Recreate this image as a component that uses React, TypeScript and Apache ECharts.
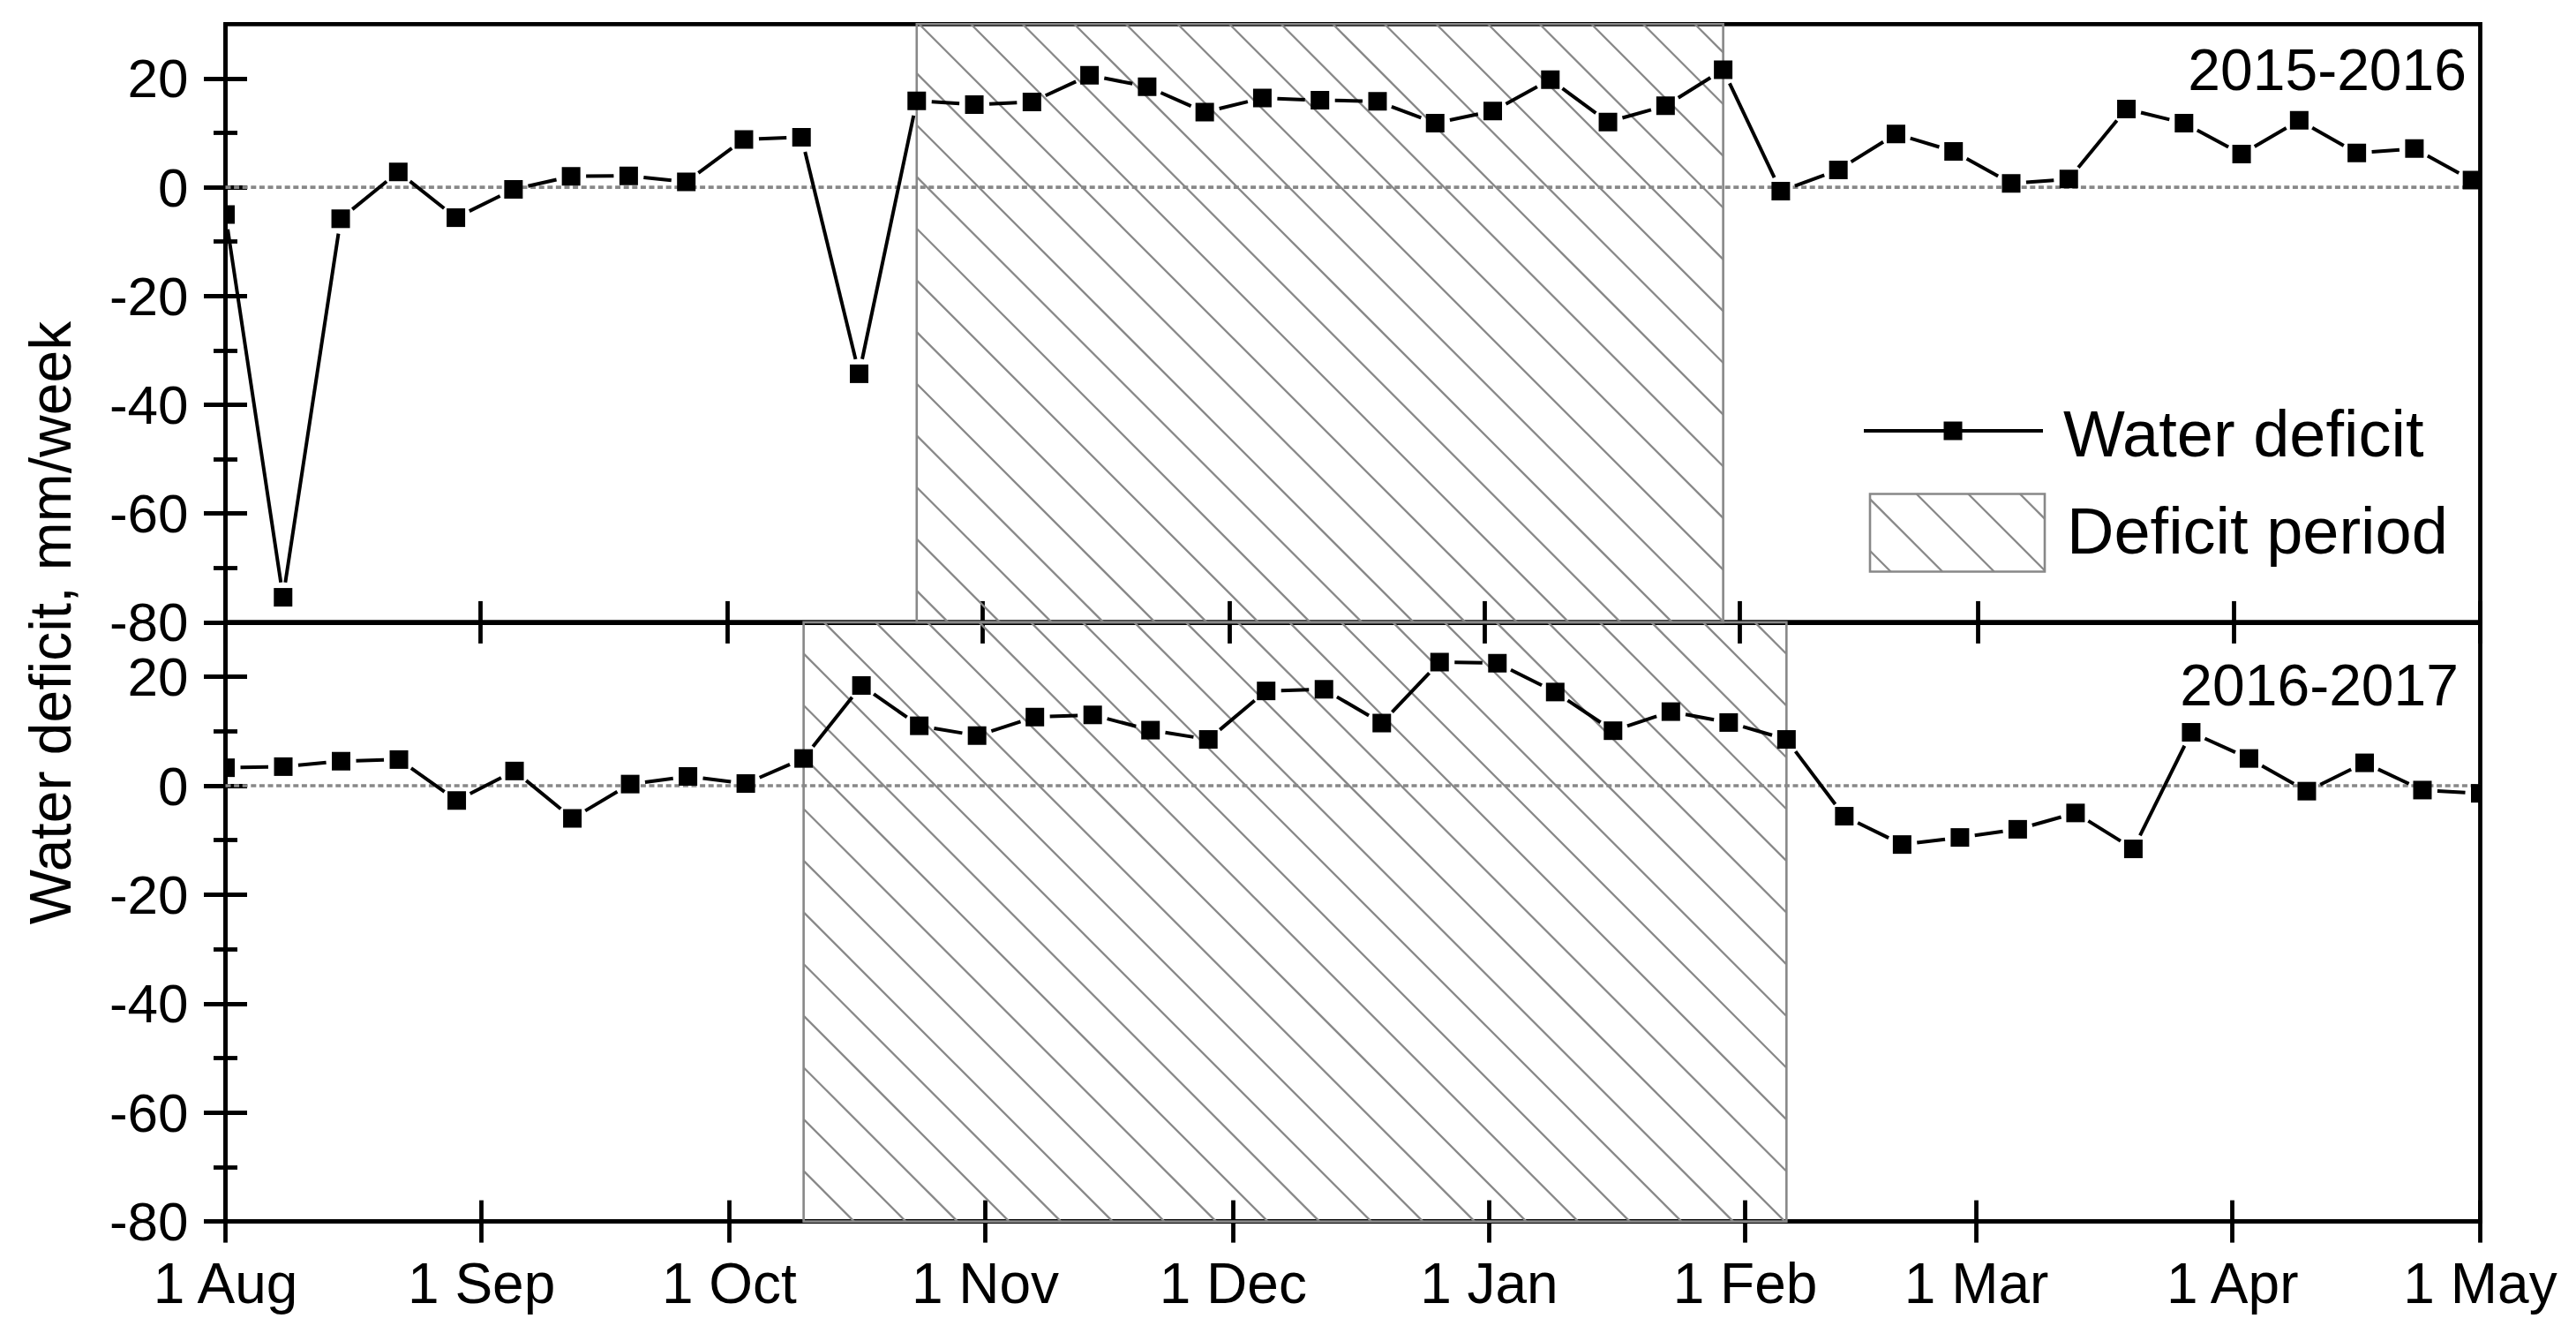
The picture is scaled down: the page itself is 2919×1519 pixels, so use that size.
import React, { useEffect, useRef } from 'react';
import * as echarts from 'echarts';

// ---------- data ----------
const monthLabels = ['1 Aug', '1 Sep', '1 Oct', '1 Nov', '1 Dec', '1 Jan', '1 Feb', '1 Mar', '1 Apr', '1 May'];
const monthDays2015 = [0, 31, 61, 92, 122, 153, 184, 213, 244, 274];
const monthDays2016 = [0, 31, 61, 92, 122, 153, 184, 212, 243, 273];

// days since 1 Aug of each weekly observation
const weekDays = [
  0, 7, 14, 21, 28, 35, 42, 49, 56, 63,
  70, 77, 84, 91, 98, 105, 112, 119, 126, 133,
  140, 147, 154, 161, 168, 175, 182, 189, 196, 203,
  210, 217, 224, 231, 238, 245, 252, 259, 266, 273,
];

const deficit2015 = [
  -5.0, -75.4, -5.8, 2.8, -5.6, -0.4, 2.0, 2.1, 1.0, 8.8,
  9.2, -34.3, 15.9, 15.2, 15.7, 20.6, 18.5, 13.8, 16.4, 16.0,
  15.8, 11.8, 14.0, 19.8, 12.0, 15.0, 21.6, -0.7, 3.2, 9.8,
  6.6, 0.7, 1.5, 14.4, 11.8, 6.1, 12.3, 6.3, 7.1, 1.3,
];

const deficit2016 = [
  3.3, 3.5, 4.5, 4.8, -2.7, 2.7, -6.0, 0.3, 1.7, 0.4,
  5.0, 18.4, 11.0, 9.2, 12.6, 13.0, 10.2, 8.5, 17.4, 17.7,
  11.5, 22.7, 22.5, 17.2, 10.1, 13.6, 11.6, 8.5, -5.6, -10.8,
  -9.5, -8.0, -5.0, -11.6, 9.8, 5.0, -1.0, 4.2, -0.8, -1.4,
];

const deficitPeriod2015 = [84, 182];
const deficitPeriod2016 = [70, 189];

const yMajorTicks = [-80, -60, -40, -20, 0, 20];
const yMinorTicks = [-70, -50, -30, -10, 10];
const yMin = -80;
const yMax = 30;

const seasonLabels = ['2015-2016', '2016-2017'];
const yTitle = 'Water deficit, mm/week';
const legendLine = 'Water deficit';
const legendHatch = 'Deficit period';

// ---------- styling ----------
const FONT = "'Liberation Sans', Arial, Helvetica, sans-serif";
const GRID_LEFT = 255.5;
const GRID_W = 2555;
const GRID_TOPS = [27.3, 704.9];
const GRID_HS = [677.6, 678.7];
const AXIS_W = 4.8;
const HATCH_COLOR = '#888888';
const HATCH_SPACING = 58.6;

function hatchSegments(x: number, y: number, w: number, h: number, off: number) {
  const segs: number[][] = [];
  const dMin = x - (y + h);
  const dMax = x + w - y;
  let k = Math.floor((dMin - off) / HATCH_SPACING);
  for (;; k++) {
    const d = off + k * HATCH_SPACING;
    if (d > dMax) break;
    if (d < dMin) continue;
    const px1 = Math.max(x, y + d);
    const px2 = Math.min(x + w, y + h + d);
    if (px2 > px1) segs.push([px1, px1 - d, px2, px2 - d]);
  }
  return segs;
}

function buildOption() {
  const panels = [
    { days: monthDays2015, vals: deficit2015, period: deficitPeriod2015, xMax: 274, off: 18 },
    { days: monthDays2016, vals: deficit2016, period: deficitPeriod2016, xMax: 273, off: 53 },
  ];

  const grid: any[] = [];
  const xAxis: any[] = [];
  const yAxis: any[] = [];
  const series: any[] = [];

  panels.forEach((p, i) => {
    grid.push({
      left: GRID_LEFT,
      top: GRID_TOPS[i],
      width: GRID_W,
      height: GRID_HS[i],
      show: true,
      borderColor: '#000',
      borderWidth: AXIS_W,
      backgroundColor: 'transparent',
    });

    // main x axis
    xAxis.push({
      type: 'value',
      gridIndex: i,
      position: 'bottom',
      min: 0,
      max: p.xMax,
      axisLine: { show: true, onZero: false, lineStyle: { color: '#000', width: AXIS_W } },
      axisTick: { show: false },
      splitLine: { show: false },
      axisLabel:
        i === 1
          ? {
              show: true,
              customValues: p.days,
              formatter: (v: number) => {
                const idx = p.days.indexOf(Math.round(v));
                return idx >= 0 ? monthLabels[idx] : '';
              },
              fontSize: 64,
              lineHeight: 64,
              margin: 38,
              color: '#000',
              fontFamily: FONT,
            }
          : { show: false },
    });
    // crossing x ticks
    xAxis.push({
      type: 'value',
      gridIndex: i,
      position: 'bottom',
      offset: -24,
      min: 0,
      max: p.xMax,
      axisLine: { show: false, onZero: false },
      axisTick: { show: true, customValues: p.days, length: 48, lineStyle: { color: '#000', width: AXIS_W } },
      axisLabel: { show: false },
      splitLine: { show: false },
    });

    // main y axis
    yAxis.push({
      type: 'value',
      gridIndex: i,
      position: 'left',
      min: yMin,
      max: yMax,
      axisLine: { show: true, onZero: false, lineStyle: { color: '#000', width: AXIS_W } },
      axisTick: { show: false },
      splitLine: { show: false },
      axisLabel: {
        show: true,
        customValues: yMajorTicks,
        formatter: (v: number) => String(v),
        fontSize: 62,
        margin: 42,
        color: '#000',
        fontFamily: FONT,
      },
    });
    // major crossing ticks
    yAxis.push({
      type: 'value',
      gridIndex: i,
      position: 'left',
      offset: -24.5,
      min: yMin,
      max: yMax,
      axisLine: { show: false, onZero: false },
      axisTick: { show: true, customValues: yMajorTicks, length: 49, lineStyle: { color: '#000', width: AXIS_W } },
      axisLabel: { show: false },
      splitLine: { show: false },
    });
    // minor crossing ticks
    yAxis.push({
      type: 'value',
      gridIndex: i,
      position: 'left',
      offset: -13.5,
      min: yMin,
      max: yMax,
      axisLine: { show: false, onZero: false },
      axisTick: { show: true, customValues: yMinorTicks, length: 27, lineStyle: { color: '#000', width: AXIS_W } },
      axisLabel: { show: false },
      splitLine: { show: false },
    });

    const xi = i * 2;
    const yi = i * 3;

    // hatched deficit period
    series.push({
      type: 'custom',
      name: legendHatch,
      xAxisIndex: xi,
      yAxisIndex: yi,
      z: 1,
      silent: true,
      encode: { x: [0, 1], y: [2, 3] },
      data: [[p.period[0], p.period[1], yMin, yMax]],
      renderItem: (_params: any, api: any) => {
        const a = api.coord([api.value(0), api.value(3)]);
        const b = api.coord([api.value(1), api.value(2)]);
        const x = a[0];
        const y = a[1];
        const w = b[0] - a[0];
        const h = b[1] - a[1];
        const children: any[] = hatchSegments(x, y, w, h, p.off).map((s) => ({
          type: 'line',
          shape: { x1: s[0], y1: s[1], x2: s[2], y2: s[3] },
          style: { stroke: HATCH_COLOR, lineWidth: 2.3 },
        }));
        children.push({
          type: 'rect',
          shape: { x, y, width: w, height: h },
          style: { fill: 'none', stroke: HATCH_COLOR, lineWidth: 2.6 },
        });
        return { type: 'group', children };
      },
    });

    // zero reference line
    series.push({
      type: 'custom',
      xAxisIndex: xi,
      yAxisIndex: yi,
      z: 2,
      silent: true,
      encode: { x: [0, 1], y: 2 },
      data: [[0, p.xMax, 0]],
      renderItem: (_params: any, api: any) => {
        const a = api.coord([api.value(0), api.value(2)]);
        const b = api.coord([api.value(1), api.value(2)]);
        return {
          type: 'line',
          shape: { x1: a[0], y1: a[1], x2: b[0], y2: b[1] },
          style: { stroke: '#888888', lineWidth: 3.6, lineDash: [6, 3.6] },
        };
      },
    });

    // line segments with gaps around symbols
    const segData = p.vals.slice(0, -1).map((v, k) => [weekDays[k], v, weekDays[k + 1], p.vals[k + 1]]);
    series.push({
      type: 'custom',
      name: legendLine,
      xAxisIndex: xi,
      yAxisIndex: yi,
      z: 3,
      clip: true,
      silent: true,
      encode: { x: [0, 2], y: [1, 3] },
      data: segData,
      renderItem: (_params: any, api: any) => {
        const a = api.coord([api.value(0), api.value(1)]);
        const b = api.coord([api.value(2), api.value(3)]);
        const dx = b[0] - a[0];
        const dy = b[1] - a[1];
        const L = Math.hypot(dx, dy);
        const g = 17;
        if (L <= 2 * g) return { type: 'group', children: [] };
        const ux = dx / L;
        const uy = dy / L;
        return {
          type: 'line',
          shape: { x1: a[0] + ux * g, y1: a[1] + uy * g, x2: b[0] - ux * g, y2: b[1] - uy * g },
          style: { stroke: '#000', lineWidth: 4 },
        };
      },
    });

    // square markers
    series.push({
      type: 'custom',
      xAxisIndex: xi,
      yAxisIndex: yi,
      z: 4,
      clip: true,
      silent: true,
      encode: { x: 0, y: 1 },
      data: p.vals.map((v, k) => [weekDays[k], v]),
      renderItem: (_params: any, api: any) => {
        const c = api.coord([api.value(0), api.value(1)]);
        const s = 21;
        return {
          type: 'rect',
          shape: { x: c[0] - s / 2, y: c[1] - s / 2, width: s, height: s },
          style: { fill: '#000' },
        };
      },
    });
  });

  // legend hatch box
  const box = { x: 2119, y: 559.5, w: 198, h: 88 };
  const legendHatchLines = hatchSegments(box.x, box.y, box.w, box.h, 30).map((s) => ({
    type: 'line',
    shape: { x1: s[0], y1: s[1], x2: s[2], y2: s[3] },
    style: { stroke: HATCH_COLOR, lineWidth: 2.3 },
    z: 10,
  }));

  const graphic: any[] = [
    {
      type: 'text',
      x: 57,
      y: 705.5,
      rotation: Math.PI / 2,
      z: 10,
      style: {
        text: yTitle,
        x: 0,
        y: 0,
        fill: '#000',
        fontSize: 66,
        fontFamily: FONT,
        textAlign: 'center',
        textVerticalAlign: 'middle',
      },
    },
    {
      type: 'text',
      x: 2795,
      y: 79,
      z: 10,
      style: {
        text: seasonLabels[0],
        fill: '#000',
        fontSize: 66,
        fontFamily: FONT,
        textAlign: 'right',
        textVerticalAlign: 'middle',
      },
    },
    {
      type: 'text',
      x: 2786,
      y: 775.5,
      z: 10,
      style: {
        text: seasonLabels[1],
        fill: '#000',
        fontSize: 66,
        fontFamily: FONT,
        textAlign: 'right',
        textVerticalAlign: 'middle',
      },
    },
    // legend: line with marker
    {
      type: 'line',
      z: 10,
      shape: { x1: 2112, y1: 488, x2: 2315, y2: 488 },
      style: { stroke: '#000', lineWidth: 4 },
    },
    {
      type: 'rect',
      z: 10,
      shape: { x: 2202.5, y: 477.5, width: 21, height: 21 },
      style: { fill: '#000' },
    },
    {
      type: 'text',
      x: 2338,
      y: 491,
      z: 10,
      style: {
        text: legendLine,
        fill: '#000',
        fontSize: 74,
        fontFamily: FONT,
        textAlign: 'left',
        textVerticalAlign: 'middle',
      },
    },
    ...legendHatchLines,
    {
      type: 'rect',
      z: 10,
      shape: { x: box.x, y: box.y, width: box.w, height: box.h },
      style: { fill: 'none', stroke: HATCH_COLOR, lineWidth: 2.6 },
    },
    {
      type: 'text',
      x: 2342,
      y: 601,
      z: 10,
      style: {
        text: legendHatch,
        fill: '#000',
        fontSize: 74,
        fontFamily: FONT,
        textAlign: 'left',
        textVerticalAlign: 'middle',
      },
    },
  ];

  return {
    animation: false,
    backgroundColor: '#fff',
    textStyle: { fontFamily: FONT },
    grid,
    xAxis,
    yAxis,
    series,
    graphic,
  };
}

export default function App() {
  const ref = useRef<HTMLDivElement>(null);

  useEffect(() => {
    document.body.style.margin = '0';
    if (!ref.current) return;
    const chart = echarts.init(ref.current, undefined, { renderer: 'svg' });
    chart.setOption(buildOption() as any);
    return () => {
      chart.dispose();
    };
  }, []);

  return <div ref={ref} style={{ width: 2919, height: 1519, background: '#fff' }} />;
}
